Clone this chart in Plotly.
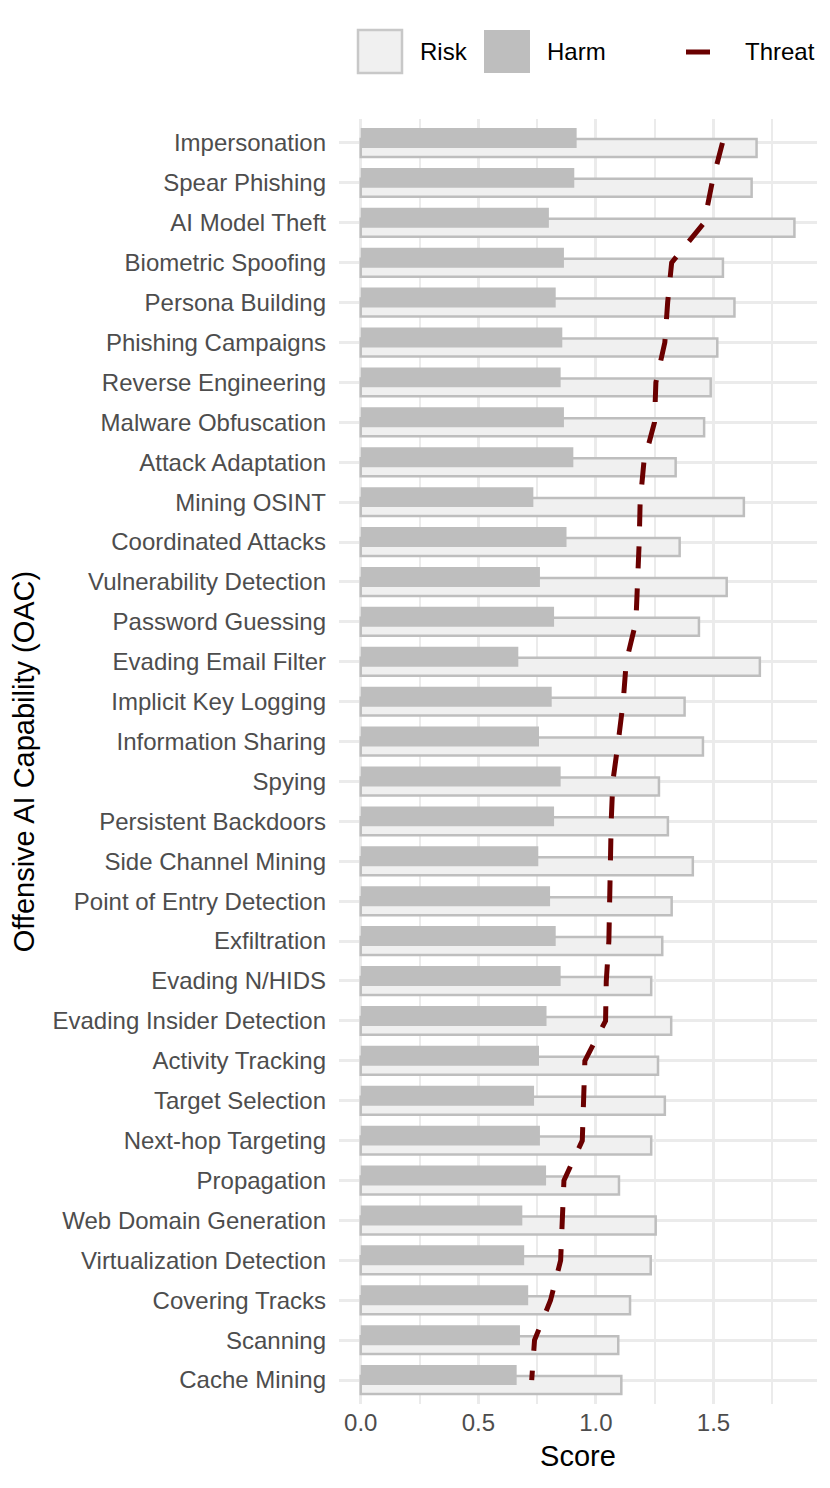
import plotly.graph_objects as go

# values, top to bottom
capabilities = [
    "Impersonation", "Spear Phishing", "AI Model Theft", "Biometric Spoofing",
    "Persona Building", "Phishing Campaigns", "Reverse Engineering",
    "Malware Obfuscation", "Attack Adaptation", "Mining OSINT",
    "Coordinated Attacks", "Vulnerability Detection", "Password Guessing",
    "Evading Email Filter", "Implicit Key Logging", "Information Sharing",
    "Spying", "Persistent Backdoors", "Side Channel Mining",
    "Point of Entry Detection", "Exfiltration", "Evading N/HIDS",
    "Evading Insider Detection", "Activity Tracking", "Target Selection",
    "Next-hop Targeting", "Propagation", "Web Domain Generation",
    "Virtualization Detection", "Covering Tracks", "Scanning", "Cache Mining",
]
risk = [1.683, 1.662, 1.844, 1.540, 1.589, 1.516, 1.488, 1.460, 1.339, 1.629,
        1.356, 1.556, 1.438, 1.697, 1.377, 1.455, 1.268, 1.306, 1.412, 1.322,
        1.282, 1.235, 1.320, 1.264, 1.293, 1.235, 1.098, 1.254, 1.233, 1.145,
        1.095, 1.108]
harm = [0.918, 0.908, 0.800, 0.864, 0.829, 0.857, 0.850, 0.864, 0.904, 0.734,
        0.875, 0.762, 0.822, 0.670, 0.812, 0.758, 0.850, 0.822, 0.755, 0.805,
        0.829, 0.850, 0.790, 0.758, 0.737, 0.762, 0.788, 0.687, 0.695, 0.712,
        0.677, 0.663]
threat = [1.538, 1.494, 1.460, 1.322, 1.305, 1.293, 1.255, 1.249, 1.204, 1.188,
          1.184, 1.176, 1.170, 1.129, 1.116, 1.095, 1.072, 1.065, 1.061, 1.058,
          1.055, 1.044, 1.041, 0.953, 0.950, 0.942, 0.864, 0.855, 0.850, 0.807,
          0.739, 0.727]

x_ticks = [0, 0.5, 1.0, 1.5]
x_tick_labels = ["0.0", "0.5", "1.0", "1.5"]

FONT = "Liberation Sans"
PAGE = 8  # the page body adds an 8px margin on the left and top
W, H = 830 - PAGE, 1488 - PAGE
L, R, T, B = 339 - PAGE, 13, 119 - PAGE, 84
RISK_FILL, GREY, RED = "#f0f0f0", "#bebebe", "#6a0000"


# helpers: window pixel -> paper coords (for the hand-drawn legend)
def px(x):
    return (x - PAGE - L) / (W - L - R)


def py(y):
    return (H - B - (y - PAGE)) / (H - T - B)


fig = go.Figure()

fig.add_trace(go.Bar(y=capabilities, x=risk, orientation="h", name="Risk",
                     offset=-0.1, width=0.45,
                     marker=dict(color=RISK_FILL, line=dict(color=GREY, width=2.5)),
                     showlegend=False))
fig.add_trace(go.Bar(y=capabilities, x=harm, orientation="h", name="Harm",
                     offset=-0.375, width=0.5,
                     marker=dict(color=GREY, line=dict(width=0)),
                     showlegend=False))
fig.add_trace(go.Scatter(y=capabilities, x=threat, mode="lines", name="Threat",
                         line=dict(color=RED, width=5, dash="22px,20px"),
                         showlegend=False))

# legend drawn by hand so the keys get the big square look
fig.add_shape(type="rect", xref="paper", yref="paper",
              x0=px(358), x1=px(402), y0=py(73), y1=py(30),
              fillcolor=RISK_FILL, line=dict(color="#c8c8c8", width=2.5))
fig.add_shape(type="rect", xref="paper", yref="paper",
              x0=px(484), x1=px(530), y0=py(73), y1=py(30),
              fillcolor=GREY, line=dict(width=0))
fig.add_shape(type="line", xref="paper", yref="paper",
              x0=px(686), x1=px(710), y0=py(52), y1=py(52),
              line=dict(color=RED, width=5))
for label, x0 in [("Risk", 418), ("Harm", 545), ("Threat", 743)]:
    fig.add_annotation(text=label, xref="paper", yref="paper", x=px(x0), y=py(52),
                       xanchor="left", yanchor="middle", showarrow=False,
                       font=dict(family=FONT, size=24, color="black"))

fig.update_layout(
    width=W, height=H,
    margin=dict(l=L, r=R, t=T, b=B, autoexpand=False),
    barmode="overlay",
    plot_bgcolor="white", paper_bgcolor="white",
    font=dict(family=FONT, size=24, color="#4d4d4d"),
)
fig.update_xaxes(range=[-0.0924, 1.94], tickvals=x_ticks, ticktext=x_tick_labels,
                 showgrid=True, gridcolor="#ebebeb", gridwidth=2.5, zeroline=False,
                 showline=False, ticks="", ticklabelstandoff=2,
                 tickfont=dict(family=FONT, size=24, color="#4d4d4d"),
                 minor=dict(tickvals=[0.25, 0.75, 1.25, 1.75], showgrid=True,
                            gridcolor="#ebebeb", gridwidth=2),
                 title=dict(text="Score", standoff=10,
                            font=dict(family=FONT, size=29, color="black")),
                 automargin=False)
fig.update_yaxes(type="category", categoryorder="array", categoryarray=capabilities,
                 range=[len(capabilities) - 0.4, -0.6],
                 showgrid=True, gridcolor="#ebebeb", gridwidth=2.5, zeroline=False,
                 showline=False, ticks="", ticklabelstandoff=12,
                 tickfont=dict(family=FONT, size=24, color="#4d4d4d"),
                 title=dict(text="Offensive AI Capability (OAC)", standoff=14,
                            font=dict(family=FONT, size=29, color="black")),
                 automargin=False)

fig.write_html("out.html")
